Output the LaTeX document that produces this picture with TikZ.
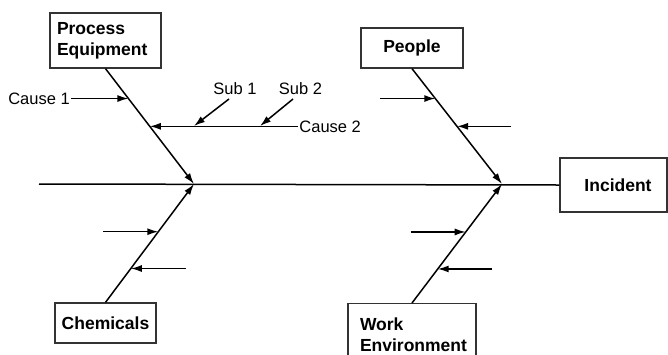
\documentclass[tikz,border=0pt]{standalone}
\usepackage{fontspec}
\setmainfont{Liberation Sans}
\usetikzlibrary{arrows.meta,calc}
\begin{document}
\begin{tikzpicture}[x=1pt,y=-1pt,
  every node/.style={font=\fontsize{16.5}{21}\selectfont},
  catbox/.style={draw=black!80,line width=1.3pt,font=\fontsize{17.5}{21}\selectfont\bfseries,inner sep=0pt},
  bone/.style={line width=1.5pt,-{Latex[length=11pt,width=7pt]}},
  cause/.style={line width=1.5pt,-{Latex[length=11pt,width=7pt]}},
  lbl/.style={inner sep=1.5pt}]
\useasboundingbox[fill=white] (0,0) rectangle (668,354);

% category boxes
\node[catbox,minimum width=111pt,minimum height=55pt,text width=97pt,align=left] (pe) at (105.5,40.5) {Process\\Equipment};
\node[catbox,minimum width=102pt,minimum height=40pt] (pp) at (412,48) {People};
\node[catbox,minimum width=101pt,minimum height=40pt] (ch) at (105.5,323) {Chemicals};
\node[catbox,minimum width=107pt,minimum height=54pt] (in) at (613.5,185) {\hspace*{9pt}Incident};
\node[catbox,minimum width=128pt,minimum height=58pt,text width=104pt,align=left,anchor=north] (we) at (412,303) {\rule{0pt}{16pt}Work\\Environment};

% spine and main bones
\coordinate (tail) at (39,184);
\coordinate (j1) at (194,184);
\coordinate (j2) at (502,184);
\draw[line width=1.5pt] (tail) -- (in.west);
\draw[bone] (pe.south) -- (j1);
\draw[bone] (pp.south) -- (j2);
\draw[bone] (ch.north) -- (j1);
\draw[bone] (we.north) -- (j2);

% points on the bones
\coordinate (pe1) at ($(pe.south)!0.259!(j1)$);
\coordinate (pe2) at ($(pe.south)!0.5!(j1)$);
\coordinate (pp1) at ($(pp.south)!0.259!(j2)$);
\coordinate (pp2) at ($(pp.south)!0.5!(j2)$);
\coordinate (ch1) at ($(ch.north)!0.597!(j1)$);
\coordinate (ch2) at ($(ch.north)!0.286!(j1)$);
\coordinate (we1) at ($(we.north)!0.597!(j2)$);
\coordinate (we2) at ($(we.north)!0.286!(j2)$);

% labelled causes
\node[lbl,anchor=east] (c1) at ($(pe1)+(-57,0)$) {Cause 1};
\draw[cause] (c1.east) -- (pe1);
\node[lbl,anchor=west] (c2) at ($(pe2)+(148,0)$) {Cause 2};
\draw[cause] (c2.west) -- (pe2);
\coordinate (s1e) at (194,126);
\coordinate (s2e) at (260,126);
\node[lbl] (s1) at (235,89) {Sub 1};
\node[lbl] (s2) at (300.5,89) {Sub 2};
\coordinate (s1s) at (229,99);
\coordinate (s2s) at (293,99);
\draw[cause] (s1s) -- (s1e);
\draw[cause] (s2s) -- (s2e);

% unlabelled causes
\coordinate (a1) at ($(pp1)+(-55,0)$);
\coordinate (a2) at ($(pp2)+(54,0)$);
\coordinate (a3) at ($(ch1)+(-55,0)$);
\coordinate (a4) at ($(ch2)+(55,0)$);
\coordinate (a5) at ($(we1)+(-55,0)$);
\coordinate (a6) at ($(we2)+(54,0)$);
\draw[cause] (a1) -- (pp1);
\draw[cause] (a2) -- (pp2);
\draw[cause] (a3) -- (ch1);
\draw[cause] (a4) -- (ch2);
\draw[cause] (a5) -- (we1);
\draw[cause] (a6) -- (we2);
\end{tikzpicture}
\end{document}
